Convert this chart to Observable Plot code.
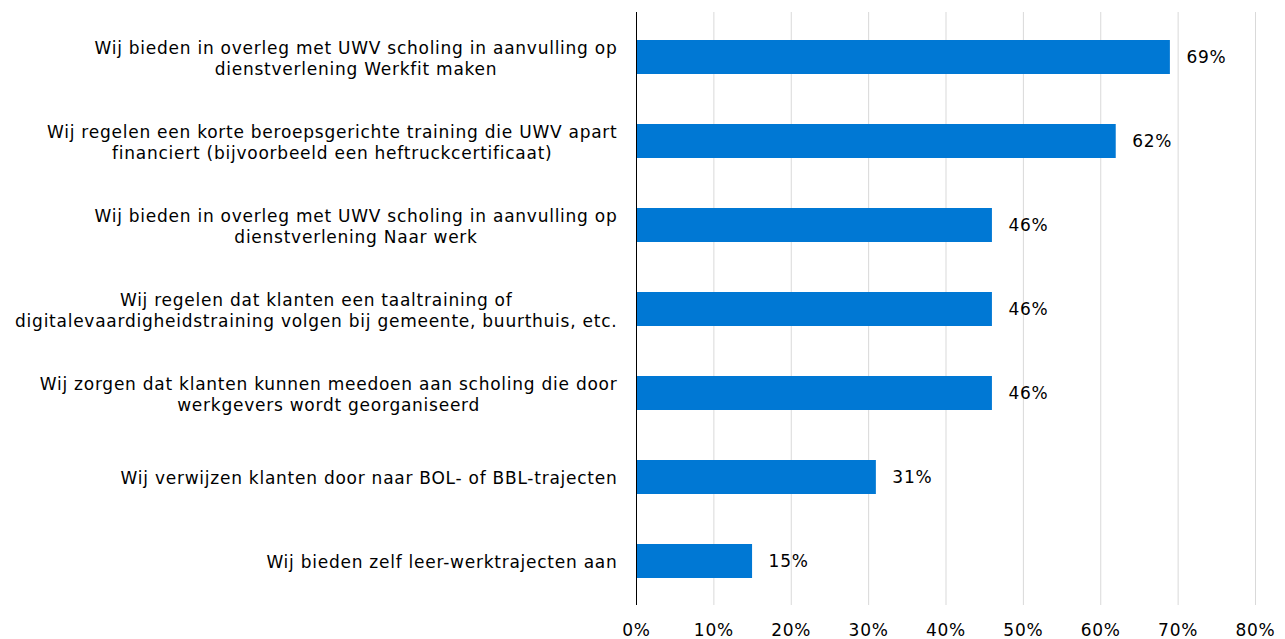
<!DOCTYPE html>
<html>
<head>
<meta charset="utf-8">
<script src="https://cdn.jsdelivr.net/npm/d3@7"></script>
<script src="https://cdn.jsdelivr.net/npm/@observablehq/plot@0.6"></script>
<style>
  html, body { margin: 0; padding: 0; background: #fff; }
  #chart { width: 1285px; height: 639px; }
  #chart svg text { letter-spacing: 0.75px; }
</style>
</head>
<body>
<div id="chart"></div>
<script>
const categories = [
  "Wij bieden in overleg met UWV scholing in aanvulling op\ndienstverlening Werkfit maken",
  "Wij regelen een korte beroepsgerichte training die UWV apart\nfinanciert (bijvoorbeeld een heftruckcertificaat)",
  "Wij bieden in overleg met UWV scholing in aanvulling op\ndienstverlening Naar werk",
  "Wij regelen dat klanten een taaltraining of\ndigitalevaardigheidstraining volgen bij gemeente, buurthuis, etc.",
  "Wij zorgen dat klanten kunnen meedoen aan scholing die door\nwerkgevers wordt georganiseerd",
  "Wij verwijzen klanten door naar BOL- of BBL-trajecten",
  "Wij bieden zelf leer-werktrajecten aan"
];
const values = [69, 62, 46, 46, 46, 31, 15];
const xTicks = [0, 10, 20, 30, 40, 50, 60, 70, 80];

const data = categories.map((c, i) => ({ label: c, value: values[i] }));

const chart = Plot.plot({
  width: 1285,
  height: 639,
  marginLeft: 636,
  marginRight: 30,
  marginTop: 12,
  marginBottom: 34,
  style: { fontFamily: "'DejaVu Sans', Verdana, sans-serif", fontSize: "17px", color: "#000", background: "#fff" },
  x: { domain: [0, 80], ticks: xTicks, tickFormat: d => d + "%", label: null, tickSize: 0, tickPadding: 18 },
  y: { domain: categories, paddingInner: 0.6, paddingOuter: 0.3, label: null, tickSize: 0, tickPadding: 19 },
  marks: [
    Plot.gridX(xTicks, { stroke: "#d9d9d9", strokeOpacity: 1, strokeWidth: 1 }),
    Plot.barX(data, { x: "value", y: "label", fill: "#0078d4" }),
    Plot.text(data, { x: "value", y: "label", text: d => d.value + "%", textAnchor: "start", dx: 16, fill: "#000", fontSize: 17 }),
    Plot.ruleX([0], { stroke: "#000", strokeWidth: 1 }),
    Plot.axisX({ ticks: xTicks, tickFormat: d => d + "%", tickSize: 0, tickPadding: 18, label: null, fontSize: 17 }),
    Plot.axisY({ tickSize: 0, tickPadding: 19, label: null, lineHeight: 1.235, fontSize: 17 })
  ]
});
document.getElementById("chart").appendChild(chart);

// Center lines of each multi-line category label within its own block (right-aligned block)
chart.querySelectorAll('g[aria-label="y-axis tick label"] text').forEach(t => {
  const w = t.getBBox().width;
  t.setAttribute("text-anchor", "middle");
  const tr = t.getAttribute("transform") || "";
  t.setAttribute("transform", tr + ` translate(${-w / 2},0)`);
});
</script>
</body>
</html>
